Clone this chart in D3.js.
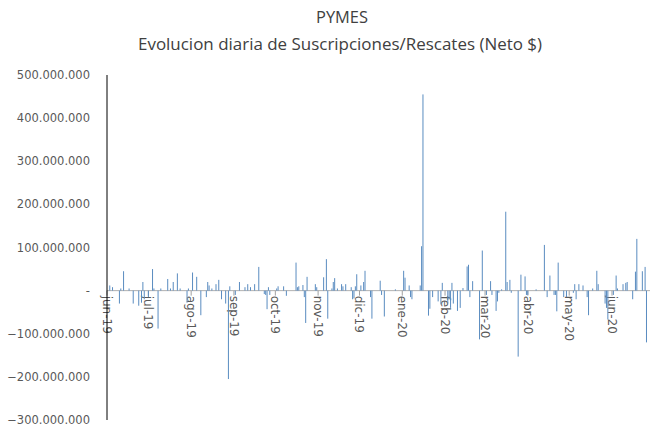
<!DOCTYPE html>
<html><head><meta charset="utf-8">
<script src="https://cdn.jsdelivr.net/npm/d3@7"></script>
<style>body{margin:0;background:#fff}svg{display:block}</style>
</head><body><svg id="c" width="650" height="430"></svg>
<script>
const dates = ["2019-06-03","2019-06-05","2019-06-10","2019-06-11","2019-06-13","2019-06-17","2019-06-20","2019-06-24","2019-06-26","2019-06-27","2019-06-28",
"2019-07-01","2019-07-04","2019-07-05","2019-07-08","2019-07-10","2019-07-15","2019-07-17","2019-07-19","2019-07-22","2019-07-24","2019-07-29","2019-07-30",
"2019-08-02","2019-08-05","2019-08-08","2019-08-12","2019-08-13","2019-08-14","2019-08-16","2019-08-19","2019-08-21","2019-08-23","2019-08-26","2019-08-28","2019-08-29",
"2019-09-02","2019-09-05","2019-09-09","2019-09-11","2019-09-13","2019-09-16","2019-09-19","2019-09-23","2019-09-24","2019-09-25","2019-09-26","2019-09-27",
"2019-10-02","2019-10-03","2019-10-07","2019-10-09","2019-10-16","2019-10-17","2019-10-18","2019-10-21","2019-10-22","2019-10-23","2019-10-24","2019-10-30","2019-10-31",
"2019-11-05","2019-11-07","2019-11-08","2019-11-11","2019-11-12","2019-11-13","2019-11-15","2019-11-18","2019-11-19","2019-11-21","2019-11-25","2019-11-26","2019-11-27","2019-11-28","2019-11-29",
"2019-12-02","2019-12-04","2019-12-05","2019-12-09","2019-12-10","2019-12-16","2019-12-17","2019-12-19","2019-12-27",
"2020-01-02","2020-01-03","2020-01-06","2020-01-07","2020-01-08","2020-01-14","2020-01-15","2020-01-16","2020-01-20","2020-01-21","2020-01-23","2020-01-27","2020-01-29","2020-01-30",
"2020-02-03","2020-02-04","2020-02-05","2020-02-06","2020-02-07","2020-02-10","2020-02-12","2020-02-14","2020-02-17","2020-02-18","2020-02-19","2020-02-21","2020-02-26","2020-02-28",
"2020-03-02","2020-03-05","2020-03-06","2020-03-09","2020-03-10","2020-03-11","2020-03-13","2020-03-16","2020-03-17","2020-03-19","2020-03-20","2020-03-25","2020-03-27","2020-03-30","2020-03-31",
"2020-04-01","2020-04-07","2020-04-13","2020-04-15","2020-04-17","2020-04-20","2020-04-21","2020-04-22","2020-04-23","2020-04-27","2020-04-29",
"2020-05-04","2020-05-05","2020-05-06","2020-05-08","2020-05-11","2020-05-14","2020-05-15","2020-05-18","2020-05-21","2020-05-22","2020-05-27","2020-05-28","2020-05-29",
"2020-06-02","2020-06-04","2020-06-05","2020-06-09","2020-06-11","2020-06-12","2020-06-16","2020-06-18","2020-06-19","2020-06-23","2020-06-25","2020-06-26"];

// Net daily flow, millions of $
const netMillions = [12,8,-30,5,45,5,-30,-35,-28,20,-20,
-15,50,5,-88,5,27,5,20,40,5,-28,5,
42,32,-57,-15,20,12,5,15,25,-20,-30,-205,10,
-10,20,8,15,8,15,55,-8,-10,-43,8,-10,
5,10,10,-12,65,8,10,13,-15,-75,32,15,8,
31,73,-65,5,20,29,5,15,10,15,8,-20,-18,10,38,
12,20,46,-15,-65,23,-10,-60,3,
46,30,12,-15,-20,12,103,455,-58,-42,-15,-25,-32,18,
-30,-20,-40,18,-30,-47,-40,6,56,60,-15,22,-113,93,
-10,22,-10,-47,-25,-5,3,183,20,25,-5,-153,37,33,-10,
-10,3,106,-15,35,-10,-10,-48,65,-15,-15,
-5,15,-20,15,12,-15,-57,5,46,15,-30,-40,-67,
-10,35,5,15,18,20,-20,44,120,45,55,-120];

const monthLabels = ["jun-19","jul-19","ago-19","sep-19","oct-19","nov-19","dic-19","ene-20","feb-20","mar-20","abr-20","may-20","jun-20"];
const yTicksMillions = [-300,-200,-100,0,100,200,300,400,500];
const titleLines = ["PYMES","Evolucion diaria de Suscripciones/Rescates (Neto $)"];

const parse = d3.utcParse("%Y-%m-%d");
const data = dates.map((d,i)=>({date:parse(d), v:netMillions[i]}));

const svg = d3.select("#c");
const x = d3.scaleUtc().domain([parse("2019-06-01"), parse("2020-06-30")]).range([107, 652]);
const y = d3.scaleLinear().domain([-300, 500]).range([420, 75]);

// titles
svg.append("text").attr("x",342).attr("y",23).attr("text-anchor","middle")
  .attr("font-family","Open Sans, sans-serif").attr("font-size",17).attr("fill","#404040")
  .attr("textLength",52).attr("lengthAdjust","spacingAndGlyphs").text(titleLines[0]);
svg.append("text").attr("x",340).attr("y",50).attr("text-anchor","middle")
  .attr("font-family","Open Sans, sans-serif").attr("font-size",17).attr("fill","#404040")
  .attr("textLength",404).attr("lengthAdjust","spacingAndGlyphs").text(titleLines[1]);

// y tick labels
const loc = d3.formatLocale({decimal:",", thousands:".", grouping:[3], currency:["$",""]});
const fmt = loc.format(",.0f");
svg.append("g").selectAll("text").data(yTicksMillions).join("text")
  .attr("x",90).attr("y",d=>y(d)).attr("dy","0.35em").attr("text-anchor","end")
  .attr("font-family","DejaVu Sans, sans-serif").attr("font-size",11.5).attr("fill","#595959")
  .text(d=> d===0 ? "-" : fmt(d*1e6));

// zero baseline
svg.append("line").attr("x1",107).attr("x2",650).attr("y1",y(0)).attr("y2",y(0))
  .attr("stroke","#b0b0b0").attr("stroke-width",1);

// month ticks and labels
const monthDates = d3.utcMonth.range(parse("2019-06-01"), parse("2020-06-02"));
const mg = svg.append("g");
mg.selectAll("line").data(monthDates).join("line")
  .attr("x1",d=>x(d)).attr("x2",d=>x(d)).attr("y1",y(0)).attr("y2",y(0)+5)
  .attr("stroke","#a0a0a0");
mg.selectAll("text").data(monthDates).join("text")
  .attr("transform",d=>`translate(${x(d)},${y(0)+5}) rotate(90)`)
  .attr("dy","0.35em").attr("text-anchor","start")
  .attr("font-family","DejaVu Sans, sans-serif").attr("font-size",12).attr("fill","#595959")
  .text((d,i)=>monthLabels[i]);

// bars
svg.append("g").selectAll("rect").data(data).join("rect")
  .attr("x",d=>x(d.date)-0.5).attr("width",1)
  .attr("y",d=>Math.min(y(d.v),y(0))).attr("height",d=>Math.abs(y(d.v)-y(0)))
  .attr("fill","#5a8cc0");

// y axis line
svg.append("line").attr("x1",107).attr("x2",107).attr("y1",75).attr("y2",420)
  .attr("stroke","#000").attr("stroke-width",1);
</script></body></html>
